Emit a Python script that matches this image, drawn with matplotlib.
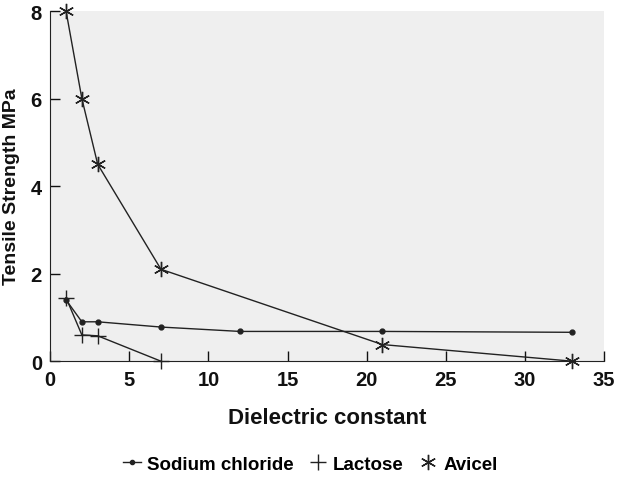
import numpy as np
import matplotlib.pyplot as plt
from matplotlib.lines import Line2D

plt.rcParams['font.family'] = ['Liberation Sans', 'DejaVu Sans']

# values
nacl_x = [1, 2, 3, 7, 12, 21, 33]
nacl_y = [1.4, 0.9, 0.9, 0.78, 0.68, 0.68, 0.66]
lactose_x = [1, 2, 3, 7]
lactose_y = [1.45, 0.6, 0.58, 0.0]
avicel_x = [1, 2, 3, 7, 21, 33]
avicel_y = [8.0, 6.0, 4.5, 2.1, 0.38, 0.0]

x_ticks = [0, 5, 10, 15, 20, 25, 30, 35]
y_ticks = [0, 2, 4, 6, 8]

fig = plt.figure(figsize=(6.2, 4.81), dpi=100)
ax = fig.add_axes([0.081, 0.247, 0.893, 0.728])
ax.set_facecolor('#efefef')

star = (6, 2, 0)
ax.plot(nacl_x, nacl_y, color='#222222', lw=1.0, marker='o', ms=3.5,
        label='Sodium chloride', clip_on=False, zorder=3)
ax.plot(lactose_x, lactose_y, color='#222222', lw=1.0, marker='+', ms=12,
        mew=1.0, label='Lactose', clip_on=False, zorder=3)
ax.plot(avicel_x, avicel_y, color='#222222', lw=1.0, marker=star, ms=11,
        mew=1.0, label='Avicel', clip_on=False, zorder=3)

ax.set_xlim(0, 35)
ax.set_ylim(0, 8)
ax.set_xticks(x_ticks)
ax.set_yticks(y_ticks)
ax.tick_params(direction='in', length=7, width=1, labelsize=14.5, pad=6,
               colors='#111111')
for lab in ax.get_xticklabels() + ax.get_yticklabels():
    lab.set_fontweight('bold')
ax.spines['top'].set_visible(False)
ax.spines['right'].set_visible(False)
ax.spines['left'].set_color('#222222')
ax.spines['bottom'].set_color('#222222')

ax.set_xlabel('Dielectric constant', fontsize=16, fontweight='bold',
              labelpad=13, color='#111111')
ax.set_ylabel('Tensile Strength MPa', fontsize=14, fontweight='bold',
              labelpad=8, color='#111111')

handles = [
    Line2D([], [], color='#222222', lw=1, marker='o', ms=3),
    Line2D([], [], color='#222222', lw=0, marker='+', ms=11, mew=1),
    Line2D([], [], color='#222222', lw=0, marker=star, ms=11, mew=1),
]
fig.legend(handles, ['Sodium chloride', 'Lactose', 'Avicel'],
           loc='center', bbox_to_anchor=(0.5, 0.033), ncol=3, frameon=False,
           handlelength=1.0, handletextpad=0.3, columnspacing=0.8,
           prop={'size': 13.5, 'weight': 'bold'})

fig.savefig('out.png', dpi=100)
